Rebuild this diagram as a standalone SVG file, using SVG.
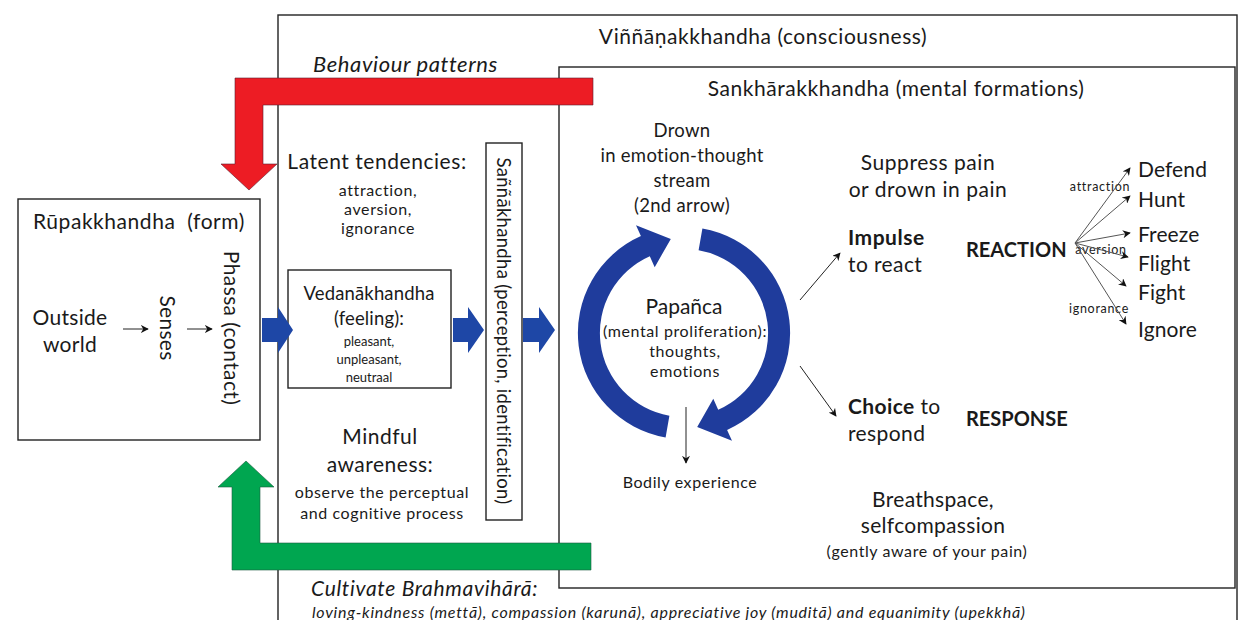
<svg xmlns="http://www.w3.org/2000/svg" width="1239" height="620" viewBox="0 0 1239 620">
<defs>
<style>
text{font-family:Lato,"Liberation Sans",sans-serif;fill:#1a1a1a;dominant-baseline:central}
.box{fill:none;stroke:#222;stroke-width:1.4}
.c{text-anchor:middle}
.b{font-weight:bold}
.i{font-style:italic}
.big{font-size:21px;letter-spacing:0.55px}
.mid{font-size:18.5px;letter-spacing:0.3px}
.sm{font-size:16px;letter-spacing:0.6px}
.xs{font-size:13px}
.lab{font-size:12.5px;letter-spacing:0.7px}
.out{font-size:21px;letter-spacing:0.1px}
.blk{fill:#1e47a6}
.circ{fill:#1f3c9c}
.ln{stroke:#222;stroke-width:1;fill:none;marker-end:url(#ah)}
.lg{stroke:#555;stroke-width:1;fill:none;marker-end:url(#ah)}
</style>
<marker id="ah" viewBox="0 0 10 10" refX="9" refY="5" markerWidth="8" markerHeight="8" markerUnits="userSpaceOnUse" orient="auto">
<path d="M0,0 L10,5 L0,10 L3,5 Z" fill="#111"/>
</marker>
</defs>
<rect width="1239" height="620" fill="#fff"/>

<g id="vinnana">
<rect class="box" x="278" y="15" width="959" height="620" stroke="#333"/>
<text class="big c" x="763" y="35">Viññāṇakkhandha (consciousness)</text>
</g>

<g id="sankhara">
<rect class="box" x="559" y="67" width="676" height="521"/>
<text class="big c" x="896" y="87">Sankhārakkhandha (mental formations)</text>
</g>

<g id="rupa">
<rect class="box" x="18" y="199" width="242" height="241"/>
<text class="big c" x="139" y="220" style="white-space:pre">Rūpakkhandha  (form)</text>
<text class="c" x="70" y="316" font-size="21" letter-spacing="0.3">Outside</text>
<text class="c" x="70" y="343" font-size="21" letter-spacing="0.3">world</text>
<text class="c" transform="translate(168,328) rotate(90)" font-size="21" letter-spacing="0.3">Senses</text>
<text class="c" transform="translate(232,328) rotate(90)" font-size="21" letter-spacing="0.4">Phassa (contact)</text>
</g>

<g id="latent">
<text class="big c" x="377" y="160">Latent tendencies:</text>
<text class="sm c" x="378" y="189">attraction,</text>
<text class="sm c" x="378" y="208">aversion,</text>
<text class="sm c" x="378" y="227">ignorance</text>
</g>

<g id="vedana">
<rect class="box" x="288" y="270" width="163" height="118"/>
<text class="c" x="369" y="293" font-size="18.5" letter-spacing="0.15">Vedanākhandha</text>
<text class="c" x="369" y="318" font-size="18.5" letter-spacing="0.15">(feeling):</text>
<text class="xs c" x="369" y="341">pleasant,</text>
<text class="xs c" x="369" y="359">unpleasant,</text>
<text class="xs c" x="369" y="377">neutraal</text>
</g>

<g id="mindful">
<text class="c" x="380" y="435" font-size="21" letter-spacing="0.5">Mindful</text>
<text class="c" x="380" y="463" font-size="21" letter-spacing="0.5">awareness:</text>
<text class="sm c" x="382" y="491">observe the perceptual</text>
<text class="sm c" x="382" y="512">and cognitive process</text>
</g>

<g id="sanna">
<rect class="box" x="486" y="143" width="36" height="377"/>
<text class="mid c" transform="translate(504,331) rotate(90)">Saññākhandha (perception, identification)</text>
</g>

<g id="drown">
<text class="mid c" x="682" y="130">Drown</text>
<text class="mid c" x="682" y="155">in emotion-thought</text>
<text class="mid c" x="682" y="180">stream</text>
<text class="mid c" x="682" y="205">(2nd arrow)</text>
</g>

<g id="papanca">
<text class="c" x="684" y="305" font-size="21">Papañca</text>
<text class="sm c" x="685" y="330">(mental proliferation):</text>
<text class="sm c" x="685" y="350">thoughts,</text>
<text class="sm c" x="685" y="370">emotions</text>
</g>

<g id="bodily">
<text class="sm c" x="690" y="481">Bodily experience</text>
</g>

<g id="suppress">
<text class="big c" x="928" y="161">Suppress pain</text>
<text class="big c" x="928" y="188">or drown in pain</text>
</g>

<g id="impulse">
<text class="b" x="848" y="236" font-size="21" letter-spacing="0.5">Impulse</text>
<text x="848" y="263" font-size="21" letter-spacing="0.4">to react</text>
</g>

<g id="reaction">
<text class="b" x="966" y="249" font-size="20">REACTION</text>
</g>

<g id="choice">
<text x="848" y="405" font-size="21" letter-spacing="0.4"><tspan class="b">Choice</tspan> to</text>
<text x="848" y="432" font-size="21" letter-spacing="0.4">respond</text>
</g>

<g id="response">
<text class="b" x="966" y="418" font-size="20">RESPONSE</text>
</g>

<g id="breathspace">
<text class="c" x="933" y="498" font-size="21" letter-spacing="0.3">Breathspace,</text>
<text class="c" x="933" y="524" font-size="21" letter-spacing="0.3">selfcompassion</text>
<text class="sm c" x="927" y="550">(gently aware of your pain)</text>
</g>

<g id="outcomes">
<text class="out" x="1138" y="168">Defend</text>
<text class="out" x="1138" y="198">Hunt</text>
<text class="out" x="1138" y="233">Freeze</text>
<text class="out" x="1138" y="262">Flight</text>
<text class="out" x="1138" y="291">Fight</text>
<text class="out" x="1138" y="328">Ignore</text>
<text class="lab c" x="1100" y="186">attraction</text>
<text class="lab c" x="1101" y="249">aversion</text>
<text class="lab c" x="1099" y="308">ignorance</text>
</g>

<g id="brahmavihara">
<text class="i" x="311" y="587" font-size="21" letter-spacing="0.7">Cultivate Brahmavihārā:</text>
<text class="i" x="312" y="611" font-size="16" letter-spacing="0.75">loving-kindness (mettā), compassion (karunā), appreciative joy (muditā) and equanimity (upekkhā)</text>
</g>

<g id="connectors">
<line class="ln" x1="123" y1="329" x2="148" y2="329"/>
<line class="ln" x1="187" y1="329" x2="212" y2="329"/>
<path class="blk" d="M262,318 H278 V307 L293,330 L278,353 V342 H262 Z"/>
<path class="blk" d="M453,318 H468 V307 L484,330 L468,353 V342 H453 Z"/>
<path class="blk" d="M523,318 H539 V307 L555,330 L539,353 V342 H523 Z"/>
<path class="circ" d="M665.6,437.4 A106,106 0 0 1 640.9,236.1 L636,225.2 L670.8,238.9 L654.7,267.2 L649.8,256.2 A84,84 0 0 0 669.4,415.7 Z"/>
<path class="circ" transform="rotate(180 684 333)" d="M665.6,437.4 A106,106 0 0 1 640.9,236.1 L636,225.2 L670.8,238.9 L654.7,267.2 L649.8,256.2 A84,84 0 0 0 669.4,415.7 Z"/>
<line class="ln" x1="686" y1="407" x2="686" y2="463"/>
<line class="ln" x1="800" y1="300" x2="840" y2="253"/>
<line class="ln" x1="800" y1="366" x2="836" y2="416"/>
<line class="lg" x1="1075" y1="243" x2="1130" y2="168"/>
<line class="lg" x1="1075" y1="243" x2="1130" y2="196"/>
<line class="lg" x1="1075" y1="243" x2="1130" y2="233"/>
<line class="lg" x1="1075" y1="243" x2="1128" y2="257"/>
<line class="lg" x1="1075" y1="243" x2="1126" y2="286"/>
<line class="lg" x1="1075" y1="243" x2="1126" y2="324"/>
<path d="M593,78 V105 H263 V164 H277 L249,190 L221,164 H235 V78 Z" fill="#ed1c24" stroke="#5a2030" stroke-width="0.6"/>
<path d="M591,543 V570 H232 V487 H218 L246,461 L274,487 H260 V543 Z" fill="#00a650" stroke="#1d5a40" stroke-width="0.6"/>
</g>
<g id="behaviour">
<text class="i" x="313" y="63" font-size="22" letter-spacing="0.6">Behaviour patterns</text>
</g>
</svg>
